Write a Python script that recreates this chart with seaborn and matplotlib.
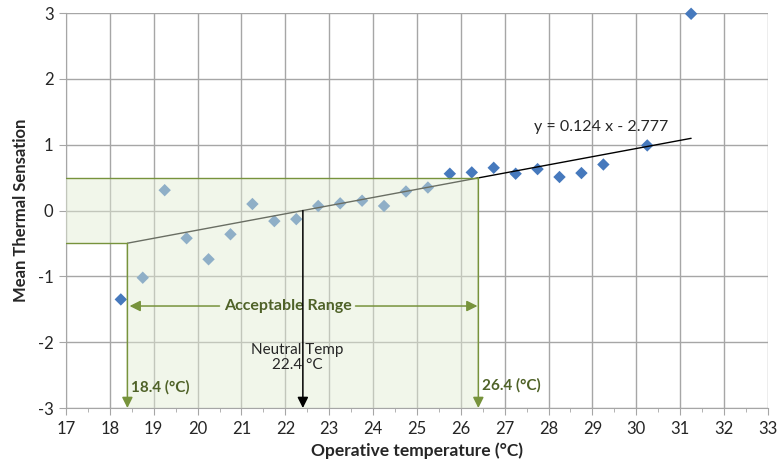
import numpy as np
import pandas as pd
import matplotlib.pyplot as plt
import seaborn as sns
from matplotlib.ticker import MultipleLocator
from matplotlib.patches import Polygon

# binned operative temperature vs mean thermal sensation
temp = [18.25, 18.75, 19.25, 19.75, 20.25, 20.75, 21.25, 21.75, 22.25, 22.75,
        23.25, 23.75, 24.25, 24.75, 25.25, 25.75, 26.25, 26.75, 27.25, 27.75,
        28.25, 28.75, 29.25, 30.25, 31.25]
sensation = [-1.35, -1.02, 0.31, -0.42, -0.74, -0.36, 0.10, -0.16, -0.13, 0.07,
             0.11, 0.15, 0.07, 0.29, 0.35, 0.56, 0.58, 0.65, 0.56, 0.63,
             0.51, 0.57, 0.70, 0.99, 2.99]

slope, intercept = 0.124, -2.777
low_t, neutral_t, high_t = 18.4, 22.4, 26.4
band = 0.5

df = pd.DataFrame({"temp": temp, "mts": sensation})

green = "#77933c"
green_txt = "#4f6228"
blue = "#4679bd"
grid_c = "#a6a6a6"

sns.set_style("white")
plt.rcParams["font.family"] = ["Lato", "DejaVu Sans"]
plt.rcParams["axes.unicode_minus"] = False

fig = plt.figure(figsize=(7.78, 4.69), dpi=100)
ax = fig.add_axes([0.0848, 0.130, 0.9022, 0.842])

sns.scatterplot(data=df, x="temp", y="mts", marker="D", s=40, color=blue,
                edgecolor="none", ax=ax, zorder=2, clip_on=False)

# regression line
xl = np.array([low_t, max(temp)])
ax.plot(xl, slope * xl + intercept, color="black", lw=1.0, zorder=2)

ax.set_xlim(17, 33)
ax.set_ylim(-3, 3)

# acceptable range shading (drawn over points so they look paler)
verts = [(17, band), (high_t, band), (high_t, -3), (low_t, -3),
         (low_t, -band), (17, -band)]
ax.add_patch(Polygon(verts, closed=True, facecolor="#e2ecd4", alpha=0.47,
                     edgecolor="none", zorder=3))
ax.plot([17, high_t], [band, band], color=green, lw=1.0, zorder=4)
ax.plot([17, low_t], [-band, -band], color=green, lw=1.0, zorder=4)

arrow_kw = dict(arrowstyle="-|>", color=green, lw=1.1, mutation_scale=16,
                shrinkA=0, shrinkB=0)
ax.annotate("", xy=(low_t, -3), xytext=(low_t, -band), arrowprops=arrow_kw,
            zorder=5, annotation_clip=False)
ax.annotate("", xy=(high_t, -3), xytext=(high_t, band), arrowprops=arrow_kw,
            zorder=5, annotation_clip=False)
ax.annotate("", xy=(low_t + 0.05, -1.45), xytext=(20.5, -1.45),
            arrowprops=arrow_kw, zorder=5)
ax.annotate("", xy=(high_t - 0.02, -1.45), xytext=(23.6, -1.45),
            arrowprops=arrow_kw, zorder=5)
ax.text(22.05, -1.45, "Acceptable Range", color=green_txt, fontsize=11.5,
        fontweight="bold", ha="center", va="center", zorder=6)
ax.text(low_t + 0.08, -2.68, f"{low_t} (°C)", color=green_txt, fontsize=11,
        fontweight="bold", ha="left", va="center", zorder=6)
ax.text(high_t + 0.08, -2.66, f"{high_t} (°C)", color=green_txt, fontsize=11,
        fontweight="bold", ha="left", va="center", zorder=6)

# neutral temperature
ax.annotate("", xy=(neutral_t, -3), xytext=(neutral_t, 0),
            arrowprops=dict(arrowstyle="-|>", color="black", lw=1.1,
                            mutation_scale=16, shrinkA=0, shrinkB=0),
            zorder=6, annotation_clip=False)
ax.text(neutral_t - 0.12, -2.23, f"Neutral Temp\n{neutral_t} °C", fontsize=11,
        ha="center", va="center", linespacing=1.15, zorder=6)

ax.text(29.2, 1.27, f"y = {slope} x - {abs(intercept)}", fontsize=11.5,
        ha="center", va="center", zorder=6)

# axes styling
ax.xaxis.set_major_locator(MultipleLocator(1))
ax.xaxis.set_minor_locator(MultipleLocator(0.5))
ax.yaxis.set_major_locator(MultipleLocator(1))
ax.grid(True, which="major", color=grid_c, lw=1.0, zorder=0)
ax.set_axisbelow(True)
for side in ["top", "right"]:
    ax.spines[side].set_visible(False)
for side in ["left", "bottom"]:
    ax.spines[side].set_color(grid_c)
ax.tick_params(axis="both", which="major", direction="out", length=5,
               color=grid_c, labelsize=12, pad=4, bottom=True, left=True)
ax.tick_params(axis="x", which="minor", direction="out", length=3,
               color=grid_c, bottom=True)

ax.set_xlabel("Operative temperature (°C)", fontsize=12.5, fontweight="bold",
              labelpad=4)
ax.set_ylabel("Mean Thermal Sensation", fontsize=12, fontweight="bold",
              labelpad=6)

fig.savefig("out.png", dpi=100)
